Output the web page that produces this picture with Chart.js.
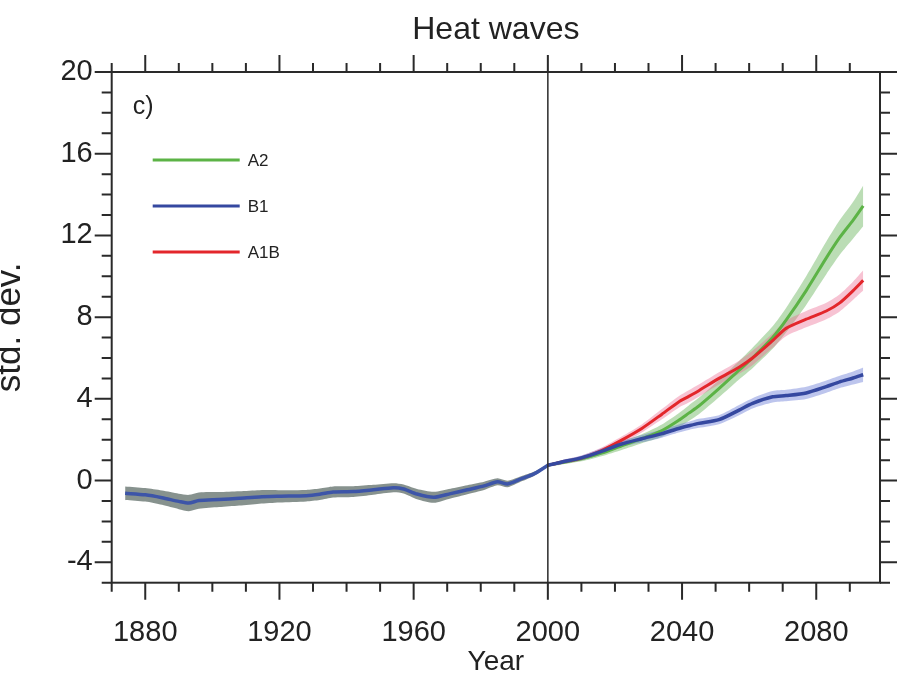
<!DOCTYPE html>
<html>
<head>
<meta charset="utf-8">
<script src="https://cdn.jsdelivr.net/npm/chart.js@4"></script>
<style>
  html, body { margin: 0; padding: 0; background: #fff; }
  #wrap { width: 902px; height: 687px; }
</style>
</head>
<body>
<div id="wrap"><canvas id="heatChart" width="902" height="687"></canvas></div>
<script>
// --- data ---
const histYears = [1874, 1880, 1885, 1890, 1893, 1896, 1902, 1908, 1914, 1920, 1928, 1932, 1936, 1942,
                   1948, 1954, 1957, 1961, 1966, 1971, 1976, 1981, 1985, 1988, 1992, 1996, 2000];
const histMean = [-0.62, -0.7, -0.84, -1.02, -1.1, -0.98, -0.93, -0.87, -0.8, -0.77, -0.74, -0.67, -0.56, -0.54,
                  -0.45, -0.35, -0.41, -0.66, -0.82, -0.64, -0.45, -0.26, -0.06, -0.17, 0.08, 0.34, 0.75];
const histSpread = [0.33, 0.33, 0.35, 0.38, 0.4, 0.4, 0.37, 0.35, 0.33, 0.3, 0.28, 0.28, 0.27, 0.26,
                    0.24, 0.22, 0.22, 0.25, 0.27, 0.24, 0.22, 0.2, 0.17, 0.16, 0.13, 0.1, 0.05];

const futureYears = [2000, 2004, 2010, 2016, 2022, 2028, 2034, 2039, 2042, 2045,
                     2051, 2057, 2061, 2067, 2071, 2077, 2083, 2087, 2091, 2094];
const a2Mean = [0.75, 0.88, 1.06, 1.34, 1.7, 2.05, 2.45, 2.95, 3.3, 3.65,
                4.5, 5.4, 6.0, 7.0, 7.85, 9.3, 10.9, 11.9, 12.75, 13.45];
const a2Spread = [0.05, 0.1, 0.12, 0.15, 0.2, 0.22, 0.3, 0.35, 0.38, 0.4,
                  0.42, 0.45, 0.5, 0.55, 0.6, 0.7, 0.8, 0.85, 0.9, 1.0];
const b1Mean = [0.75, 0.9, 1.11, 1.43, 1.79, 2.05, 2.3, 2.55, 2.68, 2.8,
                2.98, 3.45, 3.78, 4.1, 4.16, 4.29, 4.6, 4.83, 5.02, 5.18];
const b1Spread = [0.05, 0.1, 0.12, 0.15, 0.15, 0.18, 0.2, 0.2, 0.2, 0.22,
                  0.22, 0.25, 0.25, 0.28, 0.28, 0.3, 0.3, 0.3, 0.32, 0.35];
const a1bMean = [0.75, 0.9, 1.1, 1.47, 1.98, 2.55, 3.25, 3.85, 4.12, 4.4,
                 5.0, 5.55, 6.0, 6.85, 7.45, 7.9, 8.3, 8.7, 9.3, 9.8];
const a1bSpread = [0.05, 0.1, 0.12, 0.15, 0.18, 0.2, 0.25, 0.28, 0.3, 0.3,
                   0.3, 0.32, 0.35, 0.35, 0.38, 0.4, 0.4, 0.42, 0.45, 0.5];

const legendNames = ['A2', 'B1', 'A1B'];
const dividerYear = 2000;

const FONT = "'Liberation Sans', Arial, Helvetica, sans-serif";
const lineColors = { A2: '#5cb346', B1: '#3548a0', A1B: '#e3262b' };
const bandColors = {
    hist: 'rgba(122, 134, 130, 0.9)',
    A2: 'rgba(105, 180, 90, 0.45)',
    B1: 'rgba(90, 110, 210, 0.40)',
    A1B: 'rgba(235, 105, 145, 0.40)'
};

function pts(xs, ys) {
    return xs.map((x, i) => ({ x: x, y: ys[i] }));
}
function edge(xs, mean, spread, sign) {
    return xs.map((x, i) => ({ x: x, y: mean[i] + sign * spread[i] }));
}
function lineSet(label, data, color, order, width) {
    return { label: label, data: data, borderColor: color, backgroundColor: color,
             borderWidth: width || 3, fill: false, order: order, tension: 0.25 };
}
function bandPair(xs, mean, spread, color, order) {
    return [
        { label: '_lo', data: edge(xs, mean, spread, -1), borderWidth: 0, borderColor: 'transparent',
          fill: false, order: order, tension: 0.25 },
        { label: '_hi', data: edge(xs, mean, spread, 1), borderWidth: 0, borderColor: 'transparent',
          backgroundColor: color, fill: '-1', order: order, tension: 0.25 }
    ];
}

const datasets = [
    lineSet('hist', pts(histYears, histMean), '#3d55a8', 0, 3.5),
    lineSet('B1', pts(futureYears, b1Mean), lineColors.B1, 1, 3.5),
    lineSet('A1B', pts(futureYears, a1bMean), lineColors.A1B, 2),
    lineSet('A2', pts(futureYears, a2Mean), lineColors.A2, 3),
    ...bandPair(histYears, histMean, histSpread, bandColors.hist, 10),
    ...bandPair(futureYears, b1Mean, b1Spread, bandColors.B1, 11),
    ...bandPair(futureYears, a1bMean, a1bSpread, bandColors.A1B, 12),
    ...bandPair(futureYears, a2Mean, a2Spread, bandColors.A2, 13)
];

// frame, tick marks (both sides), 2000 divider, panel label and legend
const framePlugin = {
    id: 'framePlugin',
    afterDatasetsDraw(chart) {
        const ctx = chart.ctx;
        const a = chart.chartArea;
        const x = chart.scales.x, y = chart.scales.y;
        ctx.save();
        ctx.strokeStyle = '#2a2a2a';

        const xd = x.getPixelForValue(dividerYear);
        ctx.lineWidth = 1.5;
        ctx.beginPath();
        ctx.moveTo(xd, a.top);
        ctx.lineTo(xd, a.bottom);
        ctx.stroke();

        ctx.lineWidth = 2;
        ctx.strokeRect(a.left, a.top, a.right - a.left, a.bottom - a.top);
        ctx.beginPath();
        x.ticks.forEach(t => {
            const px = x.getPixelForValue(t.value);
            const len = t.value % 40 === 0 ? 17 : 9;
            ctx.moveTo(px, a.bottom); ctx.lineTo(px, a.bottom + len);
            ctx.moveTo(px, a.top); ctx.lineTo(px, a.top - len);
        });
        y.ticks.forEach(t => {
            const py = y.getPixelForValue(t.value);
            const len = t.value % 4 === 0 ? 17 : 10;
            ctx.moveTo(a.left, py); ctx.lineTo(a.left - len, py);
            ctx.moveTo(a.right, py); ctx.lineTo(a.right + len, py);
        });
        ctx.stroke();

        // panel label
        ctx.fillStyle = '#222';
        ctx.font = '25px ' + FONT;
        ctx.textAlign = 'left';
        ctx.textBaseline = 'middle';
        ctx.fillText('c)', a.left + 21, a.top + 35);

        // legend
        ctx.font = '17px ' + FONT;
        legendNames.forEach((name, i) => {
            const ly = a.top + 88 + i * 46;
            ctx.strokeStyle = lineColors[name];
            ctx.lineWidth = 3;
            ctx.beginPath();
            ctx.moveTo(a.left + 41, ly);
            ctx.lineTo(a.left + 128, ly);
            ctx.stroke();
            ctx.fillText(name, a.left + 136, ly + 1);
        });
        ctx.restore();
    }
};

const ctx = document.getElementById('heatChart').getContext('2d');
const heatChart = new Chart(ctx, {
    type: 'line',
    data: { datasets: datasets },
    options: {
        responsive: false,
        devicePixelRatio: 1,
        animation: false,
        layout: { padding: { left: 0, right: 22, top: 0, bottom: 0 } },
        elements: { point: { radius: 0 } },
        plugins: {
            legend: { display: false },
            tooltip: { enabled: false },
            title: {
                display: true,
                fullSize: false,
                text: 'Heat waves',
                color: '#222',
                font: { family: FONT, size: 32, weight: 'normal' },
                padding: { top: 11, bottom: 22.6 }
            }
        },
        scales: {
            x: {
                type: 'linear',
                min: 1870,
                max: 2099,
                grid: { display: false, drawTicks: false },
                border: { display: false },
                ticks: {
                    stepSize: 10,
                    autoSkip: false,
                    maxRotation: 0,
                    includeBounds: false,
                    padding: 33,
                    color: '#222',
                    font: { family: FONT, size: 29 },
                    callback: (v) => (v % 40 === 0 ? String(v) : '')
                },
                title: {
                    display: true,
                    text: 'Year',
                    color: '#222',
                    font: { family: FONT, size: 28 },
                    padding: { top: 0, bottom: 8 }
                },
                afterFit: (s) => { s.height = 104.3; }
            },
            y: {
                min: -5,
                max: 20,
                grid: { display: false, drawTicks: false },
                border: { display: false },
                ticks: {
                    stepSize: 1,
                    autoSkip: false,
                    padding: 19,
                    color: '#222',
                    font: { family: FONT, size: 29 },
                    callback: (v) => (v % 4 === 0 ? String(v) : '')
                },
                title: {
                    display: true,
                    text: 'std. dev.',
                    color: '#222',
                    font: { family: FONT, size: 35 },
                    padding: { top: -11, bottom: 0 }
                },
                afterFit: (s) => { s.width = 111.7; }
            }
        }
    },
    plugins: [framePlugin]
});
</script>
</body>
</html>
